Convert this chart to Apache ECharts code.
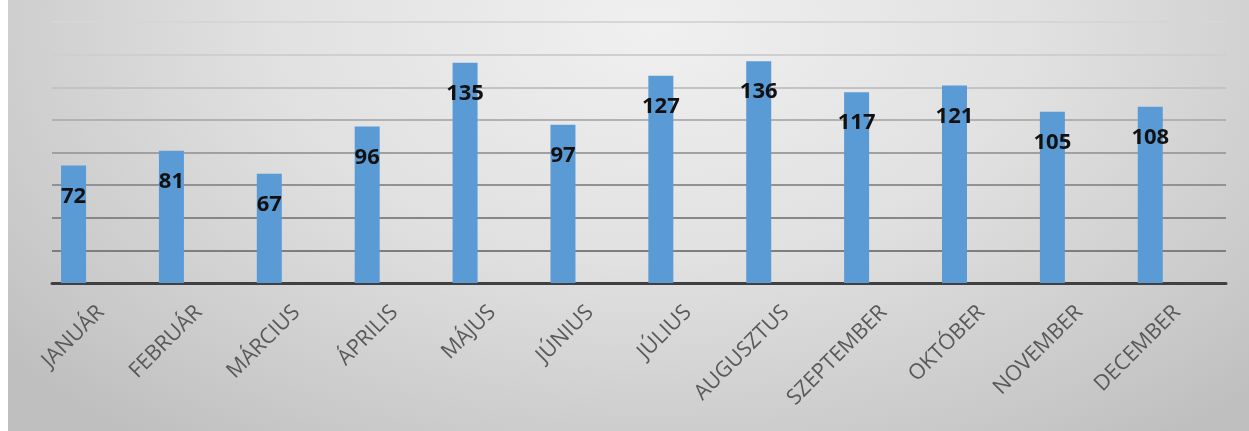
<!DOCTYPE html>
<html>
<head>
<meta charset="utf-8">
<script src="https://cdn.jsdelivr.net/npm/echarts@6/dist/echarts.min.js"></script>
<style>
    html, body { margin: 0; padding: 0; background: #fff; }
    #chart {
        position: absolute; left: 8px; top: 0;
        width: 1241px; height: 431px;
        background: radial-gradient(ellipse 68% 120% at 52% 6%, #f0f0f0 0%, #e1e1e1 45%, #c9c9c9 85%, #bfbfbf 100%);
    }
</style>
</head>
<body>
<div id="chart"></div>
<script>
"use strict";
const months = ['JANUÁR', 'FEBRUÁR', 'MÁRCIUS', 'ÁPRILIS', 'MÁJUS', 'JÚNIUS',
    'JÚLIUS', 'AUGUSZTUS', 'SZEPTEMBER', 'OKTÓBER', 'NOVEMBER', 'DECEMBER'];
const values = [72, 81, 67, 96, 135, 97, 127, 136, 117, 121, 105, 108];
const yMin = 0;
const yMax = 160;
const yStep = 20;

(() => {
    let chart = echarts.init(document.getElementById('chart'));
    //网格线颜色（从下往上逐渐变浅）
    let gridColors = ['#6f6f6f', '#7e7e7e', '#878787', '#929292', '#a0a0a0', '#b1b1b1', '#c3c3c3', '#cfcfcf', '#d6d6d6'];
    let option = {
        backgroundColor: 'transparent',
        animation: false,
        grid: [
            {left: 44, right: 23, top: 22, bottom: 148},
            {left: 16.6, width: 1174.6, top: 22, bottom: 148}
        ],
        xAxis: [
            {
                type: 'category',
                gridIndex: 0,
                data: months,
                axisLine: {lineStyle: {color: '#404040', width: 3}},
                axisTick: {show: false},
                axisLabel: {
                    rotate: 45,
                    margin: 26,
                    color: '#595959',
                    fontFamily: 'Open Sans',
                    fontSize: 21.5
                }
            },
            {
                type: 'category',
                gridIndex: 1,
                data: months,
                show: false
            }
        ],
        yAxis: [
            {
                type: 'value',
                gridIndex: 0,
                min: yMin,
                max: yMax,
                interval: yStep,
                axisLabel: {show: false},
                axisLine: {show: false},
                axisTick: {show: false},
                splitLine: {lineStyle: {color: gridColors, width: 2}}
            },
            {
                type: 'value',
                gridIndex: 1,
                min: yMin,
                max: yMax,
                interval: yStep,
                show: false,
                splitLine: {show: false}
            }
        ],
        series: [
            {
                type: 'bar',
                xAxisIndex: 1,
                yAxisIndex: 1,
                data: values,
                barWidth: 25,
                itemStyle: {color: '#5b9bd5'},
                label: {
                    show: true,
                    position: 'insideTop',
                    distance: 20,
                    color: '#111',
                    fontFamily: 'Open Sans',
                    fontWeight: 'bold',
                    fontSize: 22
                }
            }
        ]
    };
    chart.setOption(option);
})();
</script>
</body>
</html>
